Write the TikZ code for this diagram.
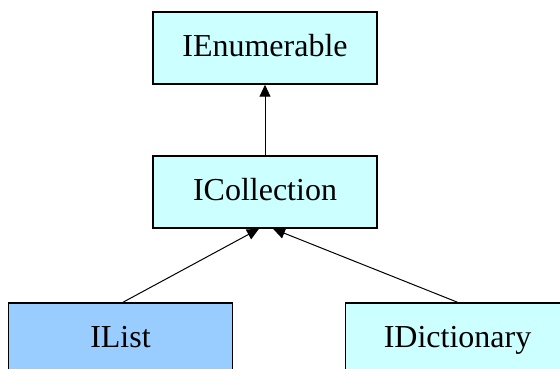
\documentclass[tikz,border=0pt]{standalone}
\usepackage{fontspec}
\setmainfont{Liberation Serif}
\usepackage{xcolor}
\usetikzlibrary{arrows.meta}
\definecolor{ifacecyan}{HTML}{CCFFFF}
\definecolor{ifaceblue}{HTML}{99CCFF}

\begin{document}
\begin{tikzpicture}[x=1pt,y=-1pt,
    iface/.style={draw=black, line width=1.5pt, fill=ifacecyan, minimum width=224pt, minimum height=72pt, inner sep=0pt, font=\fontsize{32}{38}\selectfont, text height=22pt, text depth=5pt},
    inherit/.style={-{Triangle[length=12pt,width=11pt]}, line width=1pt}]
            \useasboundingbox (0,0) rectangle (560,369);
            \clip (0,0) rectangle (560,369);
            \node[iface] (enum) at (265,48) {IEnumerable};
            \node[iface] (coll) at (265,192) {ICollection};
            \node[iface, fill=ifaceblue] (list) at (120.5,339) {IList};
            \node[iface] (dict) at (457.5,339) {IDictionary};
            \draw[inherit] (coll.north) -- (enum.south);
            \draw[inherit] ([xshift=2.5pt]list.north) -- ([xshift=-6pt]coll.south);
            \draw[inherit] (dict.north) -- ([xshift=8pt]coll.south);
        \end{tikzpicture}
\end{document}
